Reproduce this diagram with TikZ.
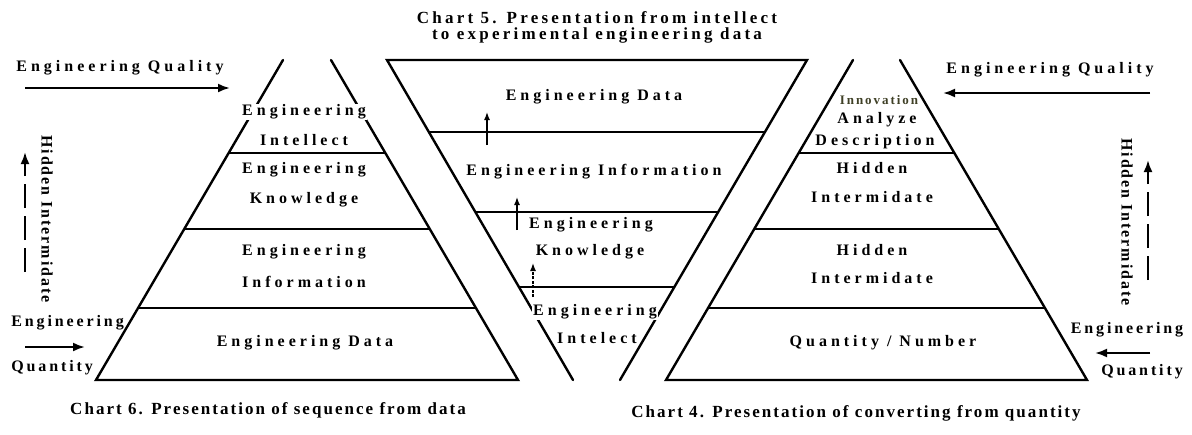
\documentclass[tikz,border=0pt]{standalone}
\usepackage{fontspec}
\setmainfont{Liberation Serif}
\usetikzlibrary{arrows.meta}
\newfontfamily\lblf[LetterSpace=25]{Liberation Serif}
\newfontfamily\sidef[LetterSpace=18]{Liberation Serif}
\newfontfamily\vertf[LetterSpace=12]{Liberation Serif}
\newfontfamily\capf[LetterSpace=12]{Liberation Serif}
\newfontfamily\titf[LetterSpace=19]{Liberation Serif}
\newfontfamily\smallf[LetterSpace=15]{Liberation Serif}
\definecolor{olive}{HTML}{3F4026}
\tikzset{
  side/.style={line width=1.2pt, line cap=round},
  inner/.style={line width=0.7pt},
  lbl/.style={font=\lblf\bfseries\fontsize{8}{9}\selectfont, inner sep=0.5pt},
  wlbl/.style={lbl, fill=white},
  slbl/.style={font=\sidef\bfseries\fontsize{8}{9}\selectfont, inner sep=0.5pt},
  vlbl/.style={font=\vertf\bfseries\fontsize{8}{9}\selectfont, inner sep=0.5pt, rotate=-90},
  caplbl/.style={font=\capf\bfseries\fontsize{8.5}{10}\selectfont, inner sep=0.5pt},
  titlbl/.style={font=\titf\bfseries\fontsize{8.5}{10}\selectfont, inner sep=0.5pt},
  smlbl/.style={font=\smallf\bfseries\fontsize{6.5}{7}\selectfont, inner sep=0.5pt, text=olive},
  arr/.style={line width=1.1pt, -{Latex[length=6pt,width=4.5pt]}},
  darr/.style={arr, dash pattern=on 12pt off 4pt},
  varr/.style={line width=0.7pt, -{Latex[length=4pt,width=3pt]}},
  dvarr/.style={varr, dash pattern=on 1.5pt off 0.7pt}
}
\begin{document}
\begin{tikzpicture}[x=0.5pt,y=-0.5pt]
\useasboundingbox (0,0) rectangle (1192,434);
% ---------- left pyramid (Chart 6)
\draw[side] (283,60) -- (96,380) -- (518,380) -- (331,60);
\draw[inner] (228.7,153) -- (385.3,153);
\draw[inner] (184.3,229) -- (429.7,229);
\draw[inner] (138.1,308) -- (475.9,308);
% ---------- V (Chart 5)
\draw[side] (573,380) -- (387,60) -- (807,60) -- (620,380);
\draw[inner] (428.9,132) -- (764.9,132);
\draw[inner] (475.4,212) -- (718.2,212);
\draw[inner] (518.9,287) -- (674.4,287);
% ---------- right pyramid (Chart 4)
\draw[side] (853,60) -- (666,380) -- (1087,380) -- (900,60);
\draw[inner] (798.7,153) -- (954.3,153);
\draw[inner] (754.3,229) -- (998.7,229);
\draw[inner] (708.1,308) -- (1044.9,308);

% ---------- left pyramid texts
\node[wlbl] (l1a) at (304,112) {Engineering};
\node[lbl] (l1b) at (304,140) {Intellect};
\node[lbl] (l2a) at (304,170) {Engineering};
\node[lbl] (l2b) at (304,200) {Knowledge};
\node[lbl] (l3a) at (304,252) {Engineering};
\node[lbl] (l3b) at (304,282) {Information};
\node[lbl] (l4) at (305,343) {Engineering Data};
% left outside
\node[lbl, anchor=west] (lq) at (15,68) {Engineering Quality};
\coordinate (lqa1) at (25,88); \coordinate (lqa2) at (230,88);
\draw[arr] (lqa1) -- (lqa2);
\node[vlbl] (lh) at (47,219) {Hidden Intermidate};
\coordinate (lha1) at (25,272); \coordinate (lha2) at (25,152);
\draw[darr] (lha1) -- (lha2);
\node[slbl, anchor=west] (le) at (10,323) {Engineering};
\coordinate (lea1) at (25,347); \coordinate (lea2) at (85,347);
\draw[arr] (lea1) -- (lea2);
\node[slbl, anchor=west] (lqt) at (10,368) {Quantity};

% ---------- V texts
\node[titlbl] (t1) at (597,18) {Chart 5. Presentation from intellect};
\node[titlbl] (t2) at (597,35) {to experimental engineering data};
\node[lbl] (v1) at (594,97) {Engineering Data};
\coordinate (va1) at (487,145); \coordinate (va2) at (487,112);
\draw[varr] (va1) -- (va2);
\node[lbl] (v2) at (594,172) {Engineering Information};
\coordinate (vb1) at (517,230); \coordinate (vb2) at (517,197);
\draw[varr] (vb1) -- (vb2);
\node[lbl] (v3a) at (591,225) {Engineering};
\node[lbl] (v3b) at (590,252) {Knowledge};
\coordinate (vc1) at (533,297); \coordinate (vc2) at (533,263);
\draw[dvarr] (vc1) -- (vc2);
\node[wlbl] (v4a) at (595,312) {Engineering};
\node[lbl] (v4b) at (597,338) {Intelect};

% ---------- right pyramid texts
\node[smlbl] (r1a) at (879,100) {Innovation};
\node[lbl] (r1b) at (877,120) {Analyze};
\node[lbl] (r1c) at (875,142) {Description};
\node[lbl] (r2a) at (872,168) {Hidden};
\node[lbl] (r2b) at (872,197) {Intermidate};
\node[lbl] (r3a) at (872,250) {Hidden};
\node[lbl] (r3b) at (872,278) {Intermidate};
\node[lbl] (r4) at (883,343) {Quantity / Number};
% right outside
\node[lbl] (rq) at (1050,70) {Engineering Quality};
\coordinate (rqa1) at (1150,93); \coordinate (rqa2) at (943,93);
\draw[arr] (rqa1) -- (rqa2);
\node[vlbl] (rh) at (1127,222) {Hidden Intermidate};
\coordinate (rha1) at (1148,280); \coordinate (rha2) at (1148,160);
\draw[darr] (rha1) -- (rha2);
\node[slbl] (re) at (1127,330) {Engineering};
\coordinate (rea1) at (1150,353); \coordinate (rea2) at (1095,353);
\draw[arr] (rea1) -- (rea2);
\node[slbl] (rqt) at (1142,372) {Quantity};

% ---------- captions
\node[caplbl] (c6) at (268,410) {Chart 6. Presentation of sequence from data};
\node[caplbl] (c4) at (856,413) {Chart 4. Presentation of converting from quantity};
\end{tikzpicture}
\end{document}
